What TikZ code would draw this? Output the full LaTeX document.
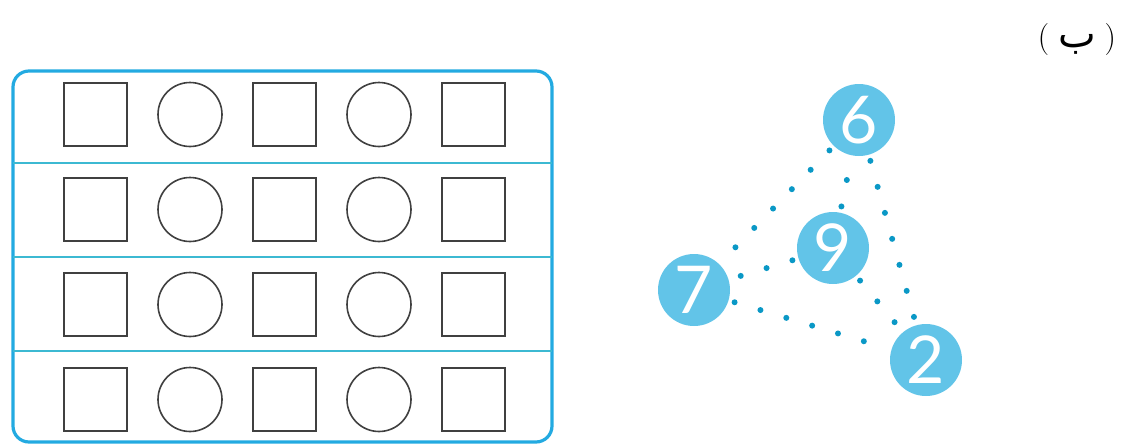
\documentclass[tikz,border=0pt]{standalone}
\usepackage{fontspec}
\TeXXeTstate=1
\newfontfamily\arabicfont[Script=Arabic]{DejaVu Sans}
\newfontfamily\numfont{Lato}

\definecolor{ballblue}{RGB}{98,196,232}
\definecolor{dotblue}{RGB}{10,152,198}
\definecolor{framecol}{RGB}{35,170,225}
\definecolor{rulecol}{RGB}{60,185,210}

\begin{document}
\begin{tikzpicture}[x=0.5pt, y=-0.5pt,
  sq/.style={draw=black!75, line width=0.8pt, minimum size=31.5pt, inner sep=0pt},
  ring/.style={draw=black!75, circle, line width=0.8pt, minimum size=32pt, inner sep=0pt},
  num/.style={circle, fill=ballblue, minimum size=36pt, inner sep=0pt, text=white,
    font=\numfont\fontsize{33}{33}\selectfont},
  link/.style={dotblue, line width=3pt, line cap=round, dash pattern=on 0pt off 13.5pt,
    shorten <=3pt, shorten >=3pt}]

\useasboundingbox (0,0) rectangle (1121,446);

% frame with the rows
\draw[framecol, line width=1.6pt, rounded corners=8pt] (13,71) rectangle (552,442);
\foreach \y in {163,257,351}
  \draw[rulecol, line width=1pt] (13,\y) -- (552,\y);

\foreach \y [count=\r] in {114.5,209.5,304.5,399.5} {
  \node[sq]   (a\r) at (95.5,\y)  {};
  \node[ring] (b\r) at (190,\y)   {};
  \node[sq]   (c\r) at (284.5,\y) {};
  \node[ring] (d\r) at (379,\y)   {};
  \node[sq]   (e\r) at (473.5,\y) {};
}

% numbered balls
\node[num] (six)   at (859,120) {6};
\node[num] (nine)  at (833,248) {9};
\node[num] (seven) at (694,290) {7};
\node[num] (two)   at (926,360) {2};

\draw[link] (six) -- (seven);
\draw[link] (six) -- (two);
\draw[link] (seven) -- (two);
\draw[link] (nine) -- (six);
\draw[link] (nine) -- (seven);
\draw[link] (nine) -- (two);

\node[font=\fontsize{16}{16}\selectfont] (tag) at (1077,40)
  {(\;{\arabicfont\fontsize{20}{20}\selectfont\beginR ب\endR}\;)};

\end{tikzpicture}
\end{document}
